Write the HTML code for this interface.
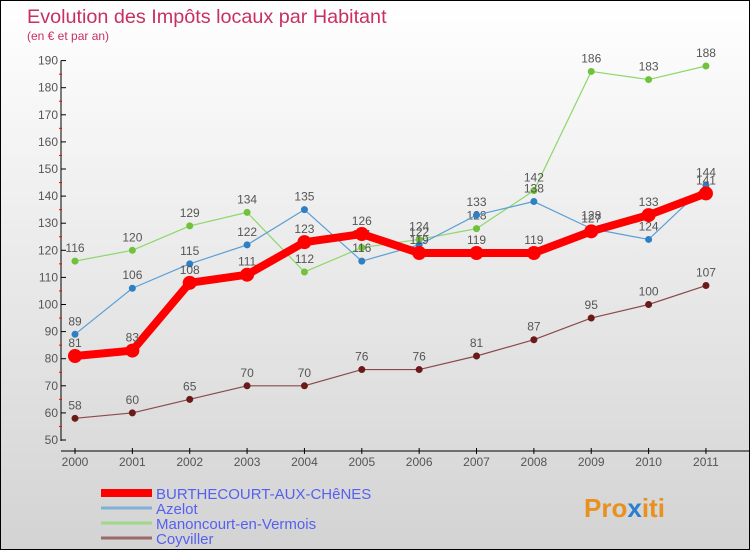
<!DOCTYPE html>
<html><head><meta charset="utf-8"><style>
body{margin:0}
#c{width:748px;height:548px;border:1px solid #000;background:linear-gradient(#fff,#d3d3d3);position:relative;overflow:hidden;font-family:"Liberation Sans",sans-serif}
</style></head><body>
<div id="c">
<svg id="s" width="748" height="548" style="position:absolute;left:0;top:0">
<text x="26" y="22" font-size="19.8" fill="#c8305f">Evolution des Impôts locaux par Habitant</text>
<text x="26" y="39" font-size="12" fill="#c8305f">(en € et par an)</text>
<g id="axes"></g><g id="series"></g><g id="legend"></g>
<text x="583" y="516" font-size="26" font-weight="bold" fill="#e89020">Pro<tspan fill="#2a7fd0">x</tspan>iti</text>
</svg></div>
<script>
const years=["2000","2001","2002","2003","2004","2005","2006","2007","2008","2009","2010","2011"];
const yTicks=[50,60,70,80,90,100,110,120,130,140,150,160,170,180,190];
const burthecourt=[81,83,108,111,123,126,119,119,119,127,133,141];
const azelot=[89,106,115,122,135,116,122,133,138,128,124,144];
const manoncourt=[116,120,129,134,112,121,124,128,142,186,183,188];
const coyviller=[58,60,65,70,70,76,76,81,87,95,100,107];
const names=["BURTHECOURT-AUX-CHêNES","Azelot","Manoncourt-en-Vermois","Coyviller"];
const NS="http://www.w3.org/2000/svg";
const xs=i=>74+i*57.36;
const ys=v=>439-(v-50)*2.71;
function mk(t,a,p){const e=document.createElementNS(NS,t);for(const k in a)e.setAttribute(k,a[k]);p.appendChild(e);return e;}
const ax=document.getElementById('axes');
let l=mk('line',{x1:60,y1:ys(190),x2:60,y2:ys(50)+1,stroke:'#000'},ax);


l=mk('line',{x1:60,y1:450,x2:748,y2:450,stroke:'#000'},ax);


yTicks.forEach(v=>{
  mk('line',{x1:60,y1:ys(v),x2:65,y2:ys(v),stroke:'#000'},ax);
  if(v<190) mk('line',{x1:58,y1:ys(v+5),x2:61,y2:ys(v+5),stroke:'#f00'},ax);
  const t=mk('text',{x:57,y:ys(v)+4,'font-size':12,fill:'#555','text-anchor':'end'},ax);
  t.textContent=v;
  
  
});
years.forEach((y,i)=>{
  mk('line',{x1:xs(i),y1:447,x2:xs(i),y2:453,stroke:'#000'},ax);
  const t=mk('text',{x:xs(i),y:465,'font-size':12,fill:'#555','text-anchor':'middle'},ax);
  t.textContent=y;
  
  
});
const sg=document.getElementById('series');
function series(d,col,dot,w,r,name){
  const g=mk('g',{},sg);
  
  
  mk('polyline',{points:d.map((v,i)=>xs(i)+','+ys(v)).join(' '),fill:'none',stroke:col,'stroke-width':w,'stroke-linejoin':'round'},g);
  d.forEach((v,i)=>{
    const c=mk('circle',{cx:xs(i),cy:ys(v),r:r,fill:dot},g);
    
    
    const t=mk('text',{x:xs(i),y:ys(v)-9,'font-size':12,fill:'#555','text-anchor':'middle'},g);
    t.textContent=v;
  });
}
series(coyviller,'#8b4a4a','#6b1a1a',1.2,3.5,'series-coyviller');
series(manoncourt,'#8cd86a','#6fc23a',1.2,3.5,'series-manoncourt');
series(azelot,'#5a9fd6','#2e7fc4',1.2,3.5,'series-azelot');
series(burthecourt,'#f00','#f00',8,7,'series-burthecourt');
const lg=document.getElementById('legend');
const lc=['#f00','#7fb0d8','#9fd88a','#9a6a6a'],lw=[8,3,3,3],ly=[492,507,522,537];
names.forEach((n,i)=>{
  const g=mk('g',{},lg);
  
  
  mk('line',{x1:100,y1:ly[i],x2:151,y2:ly[i],stroke:lc[i],'stroke-width':lw[i]},g);
  const t=mk('text',{x:155,y:ly[i]+6,'font-size':15,fill:'#5560f0'},g);
  t.textContent=n;
});
</script>
</body></html>
